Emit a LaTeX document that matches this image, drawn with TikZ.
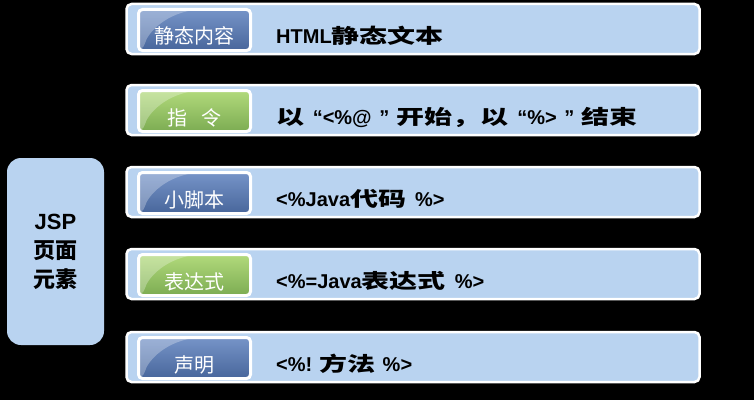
\documentclass[tikz,border=0pt]{standalone}
\usepackage{fontspec}
\setmainfont{Liberation Sans}
\newfontfamily\cjk{Noto Sans CJK SC}
\newfontfamily\cjkwide{Noto Sans CJK SC}[FakeStretch=1.4]
\usetikzlibrary{calc}
\definecolor{jspbar}{RGB}{185,211,240}
\definecolor{jspbluetop}{RGB}{118,148,200}
\definecolor{jspbluebot}{RGB}{72,102,155}
\definecolor{jspgreentop}{RGB}{178,218,124}
\definecolor{jspgreenbot}{RGB}{124,172,82}
\tikzstyle{bar} = [rectangle, rounded corners=5pt, minimum width=573pt, minimum height=50pt, draw=white, line width=2.5pt, fill=jspbar]
\tikzstyle{tag} = [rectangle, rounded corners=4pt, minimum width=112pt, minimum height=41pt, draw=white, line width=3pt, text=white, font=\cjk\fontsize{20}{20}\selectfont, text height=28pt, text depth=0pt,
    path picture={\fill[white, opacity=0.28] (path picture bounding box.north west) -- ($(path picture bounding box.north west)+(58pt,0pt)$) .. controls ($(path picture bounding box.north west)+(22pt,-6pt)$) and ($(path picture bounding box.south west)+(8pt,14pt)$) .. ($(path picture bounding box.south west)+(6pt,4pt)$) -- (path picture bounding box.south west) -- cycle;}]
\tikzstyle{tagblue} = [tag, top color=jspbluetop, bottom color=jspbluebot]
\tikzstyle{taggreen} = [tag, top color=jspgreentop, bottom color=jspgreenbot]
\tikzstyle{desc} = [anchor=base west, inner sep=0pt, font=\bfseries\fontsize{20}{24}\selectfont]

\begin{document}
\begin{tikzpicture}[x=1pt, y=1pt]
    \useasboundingbox (0,0) rectangle (754,400);
    \fill[black] (0,0) rectangle (754,400);

    % JSP page elements
    \node[rectangle, rounded corners=14pt, fill=jspbar, minimum width=97pt, minimum height=187pt, align=center, font=\bfseries\fontsize{22}{29}\selectfont] (jsp) at (55.5,148.5) {JSP\\{\cjk 页面}\\{\cjk 元素}};

    % Bars
    \node[bar] (bar1) at (413,371) {};
    \node[bar] (bar2) at (413,290) {};
    \node[bar] (bar3) at (413,208) {};
    \node[bar] (bar4) at (413,126) {};
    \node[bar] (bar5) at (413,43) {};

    % Tags
    \node[tagblue] (static) at (194.5,370) {静态内容};
    \node[taggreen] (directive) at (194.5,289) {指\hspace{0.7em}令};
    \node[tagblue] (scriptlet) at (194.5,207) {小脚本};
    \node[taggreen] (expression) at (194.5,125) {表达式};
    \node[tagblue] (declaration) at (194.5,42) {声明};

    % Descriptions
    \node[desc] (statictxt) at (276,356.5) {HTML{\cjkwide 静态文本}};
    \node[desc] (directivetxt) at (276,275.5) {{\cjkwide 以}\hspace{3pt} “<\%@\hspace{2pt} ”\hspace{2pt} {\cjkwide 开始，以}\hspace{3pt} “\%>\hspace{2pt} ”\hspace{2pt} {\cjkwide 结束}};
    \node[desc] (scriptlettxt) at (276,193.5) {<\%Java{\cjkwide 代码}\hspace{9pt}\%>};
    \node[desc] (expressiontxt) at (276,111.5) {<\%=Java{\cjkwide 表达式}\hspace{9pt}\%>};
    \node[desc] (declarationtxt) at (276,28.5) {<\%! {\cjkwide 方法}\hspace{7pt}\%>};
\end{tikzpicture}
\end{document}
